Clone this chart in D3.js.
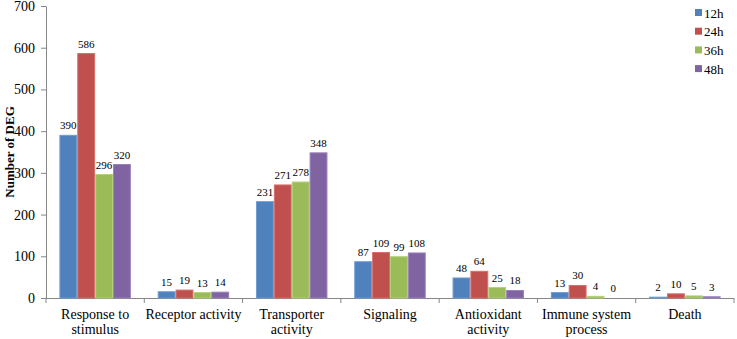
<!DOCTYPE html>
<html lang="en">
<head>
<meta charset="UTF-8">
<title>Number of DEG</title>
<style>
  body { margin: 0; background: #fff; }
</style>
</head>
<body>
<svg class="chart" font-family="Liberation Serif"></svg>
<script src="https://d3js.org/d3.v7.min.js"></script>
<script>
// data
var categories = [
  ['Response to', 'stimulus'],
  ['Receptor activity'],
  ['Transporter', 'activity'],
  ['Signaling'],
  ['Antioxidant', 'activity'],
  ['Immune system', 'process'],
  ['Death']
];
var seriesNames = ['12h', '24h', '36h', '48h'];
var values12h = [390, 15, 231, 87, 48, 13, 2];
var values24h = [586, 19, 271, 109, 64, 30, 10];
var values36h = [296, 13, 278, 99, 25, 4, 5];
var values48h = [320, 14, 348, 108, 18, 0, 3];
var yTicks = [0, 100, 200, 300, 400, 500, 600, 700];

var seriesValues = [values12h, values24h, values36h, values48h];
var colors = ['#4f81bd', '#c0504d', '#9bbb59', '#8064a2'];
var borders = ['#6f9bd1', '#d46f6c', '#b3d07a', '#9a83bb'];
var serif = 'Liberation Serif';

var width = 737, height = 339;
var margin = {top: 6, right: 3, bottom: 41, left: 46};
var w = width - margin.left - margin.right;
var h = height - margin.top - margin.bottom;

var svg = d3.select('.chart').attr('width', width).attr('height', height);
var chart = svg.append('g').attr('transform', `translate(${margin.left},${margin.top})`);

var idx = categories.map((d, i) => i);
var x0 = d3.scaleBand().domain(idx).range([0, w]).paddingInner(0).paddingOuter(0);
var bw = x0.bandwidth() / 5.5;
var x1 = d3.scaleBand().domain(seriesNames).range([bw * 0.75, bw * 4.75]);
var y = d3.scaleLinear().domain([0, 700]).range([h, 0]);

// y axis
var yAxis = chart.append('g')
  .call(d3.axisLeft(y).tickValues(yTicks).tickSize(5).tickSizeOuter(0).tickPadding(6))
  .attr('font-family', serif)
  .attr('font-size', 14);
yAxis.select('.domain').attr('stroke', '#868686');
yAxis.selectAll('line').attr('stroke', '#868686');
yAxis.selectAll('text').attr('font-family', serif).attr('fill', '#000');

// x axis with ticks at category boundaries
var xAxisG = chart.append('g').attr('transform', `translate(0,${h})`);
xAxisG.append('line').attr('x1', 0).attr('x2', w).attr('y1', 0.5).attr('y2', 0.5).attr('stroke', '#868686');
xAxisG.selectAll('.tk').data(d3.range(categories.length + 1)).enter().append('line')
  .attr('x1', d => d < categories.length ? x0(d) : w)
  .attr('x2', d => d < categories.length ? x0(d) : w)
  .attr('y1', 0).attr('y2', 5).attr('stroke', '#868686');

xAxisG.selectAll('.cat').data(categories).enter().append('text')
  .attr('text-anchor', 'middle')
  .attr('font-size', 14).attr('font-family', serif)
  .attr('transform', (d, i) => `translate(${x0(i) + x0.bandwidth() / 2},21)`)
  .each(function(d) {
    var t = d3.select(this);
    d.forEach((line, j) => {
      t.append('tspan').attr('x', 0).attr('y', j * 15).text(line);
    });
  });

// y label
svg.append('text')
  .attr('transform', `translate(14,${margin.top + h / 2}) rotate(-90)`)
  .attr('text-anchor', 'middle')
  .attr('font-size', 13).attr('font-weight', 'bold').attr('font-family', serif)
  .text('Number of DEG');

// bars
var groups = chart.selectAll('.grp').data(categories).enter().append('g')
  .attr('transform', (d, i) => `translate(${x0(i)},0)`);

seriesNames.forEach((s, si) => {
  groups.append('rect')
    .attr('x', x1(s) + 0.5)
    .attr('width', x1.bandwidth() - 1)
    .attr('y', (d, i) => y(seriesValues[si][i]))
    .attr('height', (d, i) => h - y(seriesValues[si][i]))
    .attr('fill', colors[si])
    .attr('stroke', borders[si])
    .attr('stroke-width', 1);
  groups.append('text')
    .attr('x', x1(s) + x1.bandwidth() / 2)
    .attr('y', (d, i) => y(seriesValues[si][i]) - 6)
    .attr('text-anchor', 'middle')
    .attr('font-size', 11).attr('font-family', serif)
    .text((d, i) => seriesValues[si][i]);
});

// legend
var legend = svg.append('g').attr('transform', 'translate(695,13)');
seriesNames.forEach((s, i) => {
  var g = legend.append('g').attr('transform', `translate(0,${i * 18.7})`);
  g.append('rect').attr('x', 0).attr('y', -4).attr('width', 7).attr('height', 7).attr('fill', colors[i]);
  g.append('text').attr('x', 9).attr('y', 4.5).attr('font-size', 13).attr('font-family', serif).text(s);
});
</script>
</body>
</html>
